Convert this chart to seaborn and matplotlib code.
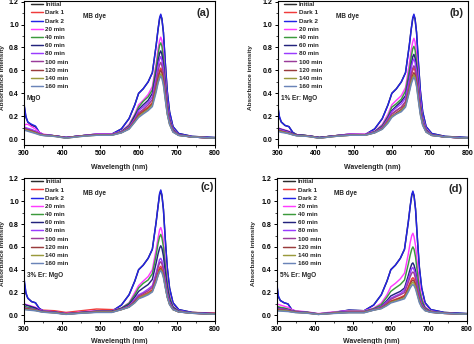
import matplotlib
matplotlib.use('Agg')
import matplotlib.pyplot as plt
import seaborn as sns
import pandas as pd
from matplotlib.ticker import MultipleLocator

# ---------------- data ----------------
wavelength = [300, 305, 310, 320, 330, 340, 350, 380, 410, 450, 490, 530,
              555, 575, 590, 600, 612, 625, 636, 646, 651, 655, 658, 661,
              665, 670, 675, 681, 690, 705, 740, 800]

series = ['Initial', 'Dark 1', 'Dark 2', '20 min', '40 min', '60 min',
          '80 min', '100 min', '120 min', '140 min', '160 min']

colors = ['#2b2b2b', '#f03c3c', '#2323e6', '#ff3cff', '#3c9a3c', '#23237d',
          '#9a3cff', '#9a3c9a', '#9a3c3c', '#9a9a3c', '#6a84b8']

panel_tags = ['(a)', '(b)', '(c)', '(d)']
sample_labels = ['MgO', '1% Er: MgO', '3% Er: MgO', '5% Er: MgO']
dye_label = 'MB dye'

# UV / baseline part (300-530 nm) for each series
uv_a = [
    [0.30, 0.19, 0.15, 0.12, 0.11, 0.06, 0.04, 0.03, 0.015, 0.03, 0.045, 0.045],
    [0.09, 0.085, 0.08, 0.07, 0.06, 0.045, 0.035, 0.03, 0.012, 0.03, 0.04, 0.04],
    [0.31, 0.20, 0.15, 0.13, 0.115, 0.06, 0.04, 0.03, 0.015, 0.03, 0.045, 0.045],
    [0.12, 0.13, 0.13, 0.11, 0.09, 0.06, 0.045, 0.03, 0.015, 0.03, 0.045, 0.045],
    [0.10, 0.095, 0.09, 0.08, 0.07, 0.05, 0.04, 0.03, 0.015, 0.03, 0.04, 0.04],
    [0.10, 0.09, 0.085, 0.075, 0.065, 0.05, 0.04, 0.03, 0.015, 0.03, 0.04, 0.04],
    [0.11, 0.10, 0.095, 0.085, 0.07, 0.05, 0.04, 0.03, 0.015, 0.03, 0.04, 0.04],
    [0.10, 0.09, 0.085, 0.075, 0.06, 0.045, 0.035, 0.028, 0.012, 0.028, 0.038, 0.038],
    [0.09, 0.085, 0.08, 0.07, 0.06, 0.045, 0.035, 0.028, 0.012, 0.028, 0.038, 0.038],
    [0.085, 0.08, 0.075, 0.065, 0.055, 0.04, 0.035, 0.025, 0.01, 0.025, 0.035, 0.035],
    [0.08, 0.075, 0.07, 0.06, 0.05, 0.04, 0.032, 0.025, 0.01, 0.025, 0.035, 0.035],
]
vis_a = [
    [0.09, 0.18, 0.30, 0.40, 0.44, 0.50, 0.58, 0.82, 0.96, 1.05, 1.08, 1.05, 0.93, 0.66, 0.42, 0.24, 0.11, 0.05, 0.025, 0.015],
    [0.059, 0.096, 0.16, 0.22, 0.25, 0.28, 0.32, 0.46, 0.55, 0.60, 0.62, 0.60, 0.52, 0.38, 0.24, 0.14, 0.068, 0.035, 0.02, 0.01],
    [0.09, 0.18, 0.30, 0.40, 0.44, 0.50, 0.58, 0.82, 0.96, 1.06, 1.09, 1.05, 0.93, 0.66, 0.42, 0.24, 0.11, 0.05, 0.025, 0.015],
    [0.07, 0.13, 0.22, 0.30, 0.34, 0.39, 0.46, 0.66, 0.79, 0.86, 0.89, 0.86, 0.75, 0.54, 0.34, 0.19, 0.09, 0.04, 0.022, 0.01],
    [0.068, 0.12, 0.21, 0.28, 0.33, 0.37, 0.43, 0.63, 0.74, 0.82, 0.84, 0.81, 0.71, 0.51, 0.32, 0.18, 0.086, 0.04, 0.02, 0.01],
    [0.065, 0.11, 0.20, 0.26, 0.30, 0.34, 0.40, 0.58, 0.68, 0.75, 0.77, 0.74, 0.65, 0.47, 0.30, 0.17, 0.08, 0.04, 0.02, 0.01],
    [0.063, 0.107, 0.18, 0.25, 0.28, 0.32, 0.37, 0.54, 0.64, 0.70, 0.72, 0.69, 0.61, 0.44, 0.28, 0.16, 0.076, 0.038, 0.02, 0.01],
    [0.061, 0.10, 0.17, 0.23, 0.26, 0.30, 0.345, 0.50, 0.59, 0.65, 0.67, 0.64, 0.57, 0.41, 0.26, 0.15, 0.072, 0.036, 0.02, 0.01],
    [0.058, 0.094, 0.16, 0.21, 0.24, 0.27, 0.31, 0.45, 0.53, 0.58, 0.60, 0.58, 0.51, 0.37, 0.23, 0.14, 0.066, 0.035, 0.02, 0.01],
    [0.057, 0.09, 0.15, 0.20, 0.23, 0.26, 0.30, 0.43, 0.50, 0.55, 0.57, 0.55, 0.48, 0.35, 0.22, 0.13, 0.064, 0.034, 0.02, 0.01],
    [0.056, 0.088, 0.15, 0.19, 0.22, 0.25, 0.285, 0.41, 0.49, 0.53, 0.55, 0.53, 0.47, 0.34, 0.22, 0.13, 0.062, 0.033, 0.02, 0.01],
]

uv_b = [
    [0.30, 0.19, 0.15, 0.12, 0.11, 0.06, 0.04, 0.03, 0.015, 0.03, 0.045, 0.04],
    [0.09, 0.085, 0.08, 0.07, 0.06, 0.045, 0.035, 0.03, 0.012, 0.03, 0.04, 0.04],
    [0.31, 0.20, 0.15, 0.12, 0.11, 0.06, 0.04, 0.03, 0.015, 0.03, 0.045, 0.04],
    [0.10, 0.095, 0.09, 0.08, 0.07, 0.05, 0.04, 0.03, 0.015, 0.03, 0.045, 0.045],
    [0.10, 0.09, 0.085, 0.075, 0.065, 0.05, 0.04, 0.03, 0.015, 0.03, 0.04, 0.04],
    [0.10, 0.09, 0.085, 0.075, 0.065, 0.05, 0.04, 0.03, 0.015, 0.03, 0.04, 0.04],
    [0.09, 0.085, 0.08, 0.07, 0.06, 0.045, 0.035, 0.028, 0.012, 0.028, 0.04, 0.04],
    [0.08, 0.075, 0.07, 0.065, 0.055, 0.042, 0.035, 0.028, 0.012, 0.028, 0.038, 0.038],
    [0.08, 0.075, 0.07, 0.06, 0.05, 0.04, 0.032, 0.025, 0.01, 0.025, 0.035, 0.035],
    [0.075, 0.07, 0.065, 0.058, 0.05, 0.04, 0.032, 0.025, 0.01, 0.025, 0.035, 0.035],
    [0.07, 0.065, 0.06, 0.055, 0.048, 0.038, 0.03, 0.025, 0.01, 0.025, 0.035, 0.035],
]
vis_b = [
    [0.09, 0.18, 0.30, 0.40, 0.44, 0.50, 0.58, 0.82, 0.96, 1.05, 1.08, 1.05, 0.93, 0.66, 0.42, 0.24, 0.11, 0.05, 0.025, 0.015],
    [0.059, 0.096, 0.16, 0.22, 0.25, 0.28, 0.32, 0.46, 0.55, 0.60, 0.62, 0.60, 0.52, 0.38, 0.24, 0.14, 0.068, 0.035, 0.02, 0.01],
    [0.09, 0.18, 0.30, 0.40, 0.44, 0.50, 0.58, 0.82, 0.96, 1.06, 1.09, 1.05, 0.93, 0.66, 0.42, 0.24, 0.11, 0.05, 0.025, 0.015],
    [0.07, 0.13, 0.22, 0.30, 0.34, 0.38, 0.45, 0.66, 0.78, 0.85, 0.88, 0.85, 0.74, 0.54, 0.34, 0.19, 0.09, 0.04, 0.02, 0.01],
    [0.067, 0.12, 0.20, 0.28, 0.31, 0.35, 0.42, 0.60, 0.72, 0.79, 0.81, 0.78, 0.68, 0.49, 0.31, 0.18, 0.083, 0.04, 0.02, 0.01],
    [0.064, 0.11, 0.19, 0.25, 0.29, 0.33, 0.38, 0.55, 0.65, 0.72, 0.74, 0.71, 0.63, 0.45, 0.29, 0.16, 0.078, 0.038, 0.02, 0.01],
    [0.062, 0.105, 0.18, 0.24, 0.275, 0.31, 0.36, 0.52, 0.62, 0.68, 0.70, 0.67, 0.59, 0.43, 0.27, 0.16, 0.074, 0.037, 0.02, 0.01],
    [0.06, 0.098, 0.17, 0.22, 0.25, 0.28, 0.33, 0.48, 0.57, 0.62, 0.64, 0.62, 0.54, 0.39, 0.25, 0.14, 0.07, 0.036, 0.02, 0.01],
    [0.057, 0.092, 0.15, 0.20, 0.23, 0.26, 0.30, 0.43, 0.51, 0.56, 0.58, 0.56, 0.49, 0.36, 0.23, 0.13, 0.065, 0.034, 0.02, 0.01],
    [0.057, 0.089, 0.15, 0.20, 0.22, 0.25, 0.29, 0.42, 0.50, 0.54, 0.56, 0.54, 0.47, 0.34, 0.22, 0.13, 0.063, 0.033, 0.02, 0.01],
    [0.056, 0.087, 0.14, 0.19, 0.22, 0.24, 0.28, 0.41, 0.48, 0.52, 0.54, 0.52, 0.46, 0.33, 0.21, 0.12, 0.062, 0.033, 0.02, 0.01],
]

uv_c = [
    [0.31, 0.19, 0.15, 0.12, 0.11, 0.06, 0.04, 0.03, 0.015, 0.025, 0.035, 0.035],
    [0.07, 0.065, 0.06, 0.055, 0.05, 0.045, 0.045, 0.04, 0.025, 0.04, 0.055, 0.05],
    [0.33, 0.20, 0.15, 0.12, 0.11, 0.06, 0.04, 0.03, 0.015, 0.025, 0.035, 0.035],
    [0.10, 0.095, 0.09, 0.08, 0.07, 0.05, 0.04, 0.03, 0.015, 0.03, 0.04, 0.04],
    [0.08, 0.075, 0.07, 0.065, 0.055, 0.04, 0.035, 0.028, 0.012, 0.025, 0.035, 0.035],
    [0.10, 0.09, 0.085, 0.075, 0.065, 0.045, 0.035, 0.028, 0.012, 0.025, 0.035, 0.035],
    [0.07, 0.065, 0.06, 0.055, 0.05, 0.04, 0.032, 0.025, 0.01, 0.022, 0.03, 0.03],
    [0.065, 0.06, 0.058, 0.052, 0.047, 0.038, 0.03, 0.025, 0.01, 0.022, 0.03, 0.03],
    [0.06, 0.057, 0.055, 0.05, 0.045, 0.036, 0.03, 0.022, 0.01, 0.02, 0.028, 0.028],
    [0.055, 0.052, 0.05, 0.046, 0.042, 0.035, 0.028, 0.022, 0.01, 0.02, 0.028, 0.028],
    [0.05, 0.048, 0.046, 0.043, 0.04, 0.033, 0.027, 0.02, 0.008, 0.018, 0.025, 0.025],
]
vis_c = [
    [0.09, 0.18, 0.30, 0.40, 0.44, 0.50, 0.58, 0.82, 0.96, 1.06, 1.09, 1.05, 0.93, 0.66, 0.42, 0.24, 0.11, 0.05, 0.025, 0.015],
    [0.051, 0.075, 0.12, 0.16, 0.18, 0.20, 0.225, 0.32, 0.38, 0.42, 0.43, 0.41, 0.36, 0.27, 0.17, 0.10, 0.053, 0.03, 0.025, 0.02],
    [0.09, 0.18, 0.30, 0.40, 0.44, 0.50, 0.58, 0.82, 0.96, 1.07, 1.10, 1.06, 0.93, 0.66, 0.42, 0.24, 0.11, 0.05, 0.025, 0.015],
    [0.065, 0.11, 0.20, 0.26, 0.30, 0.34, 0.40, 0.58, 0.68, 0.75, 0.77, 0.74, 0.65, 0.47, 0.30, 0.17, 0.08, 0.04, 0.02, 0.01],
    [0.063, 0.106, 0.18, 0.24, 0.28, 0.31, 0.365, 0.53, 0.63, 0.69, 0.71, 0.68, 0.60, 0.43, 0.28, 0.16, 0.075, 0.037, 0.02, 0.01],
    [0.059, 0.095, 0.16, 0.21, 0.24, 0.27, 0.315, 0.46, 0.54, 0.59, 0.61, 0.59, 0.52, 0.37, 0.24, 0.14, 0.067, 0.035, 0.02, 0.01],
    [0.054, 0.083, 0.14, 0.18, 0.20, 0.23, 0.26, 0.375, 0.44, 0.49, 0.50, 0.48, 0.42, 0.31, 0.20, 0.12, 0.058, 0.032, 0.019, 0.01],
    [0.053, 0.08, 0.13, 0.17, 0.19, 0.215, 0.245, 0.35, 0.42, 0.46, 0.47, 0.45, 0.40, 0.29, 0.19, 0.11, 0.056, 0.031, 0.019, 0.01],
    [0.051, 0.073, 0.12, 0.15, 0.17, 0.19, 0.215, 0.31, 0.36, 0.40, 0.41, 0.39, 0.35, 0.25, 0.16, 0.10, 0.051, 0.03, 0.018, 0.01],
    [0.05, 0.072, 0.11, 0.15, 0.17, 0.19, 0.21, 0.30, 0.35, 0.39, 0.40, 0.385, 0.34, 0.25, 0.16, 0.096, 0.05, 0.03, 0.018, 0.01],
    [0.05, 0.071, 0.11, 0.145, 0.16, 0.18, 0.205, 0.29, 0.35, 0.38, 0.39, 0.375, 0.33, 0.24, 0.16, 0.094, 0.05, 0.03, 0.018, 0.01],
]

uv_d = [
    [0.29, 0.16, 0.13, 0.11, 0.10, 0.05, 0.035, 0.025, 0.012, 0.025, 0.045, 0.04],
    [0.05, 0.048, 0.046, 0.043, 0.04, 0.033, 0.028, 0.022, 0.01, 0.02, 0.03, 0.03],
    [0.30, 0.17, 0.13, 0.11, 0.10, 0.05, 0.035, 0.025, 0.012, 0.025, 0.045, 0.04],
    [0.10, 0.095, 0.09, 0.08, 0.07, 0.05, 0.04, 0.03, 0.015, 0.03, 0.04, 0.04],
    [0.08, 0.075, 0.07, 0.065, 0.055, 0.042, 0.035, 0.028, 0.012, 0.025, 0.035, 0.035],
    [0.07, 0.065, 0.06, 0.055, 0.05, 0.04, 0.032, 0.025, 0.01, 0.022, 0.03, 0.03],
    [0.065, 0.06, 0.058, 0.052, 0.047, 0.038, 0.03, 0.025, 0.01, 0.022, 0.03, 0.03],
    [0.06, 0.057, 0.055, 0.05, 0.045, 0.036, 0.03, 0.022, 0.01, 0.02, 0.028, 0.028],
    [0.05, 0.048, 0.046, 0.043, 0.04, 0.033, 0.027, 0.02, 0.008, 0.018, 0.025, 0.025],
    [0.045, 0.043, 0.042, 0.04, 0.037, 0.03, 0.025, 0.02, 0.008, 0.018, 0.025, 0.025],
    [0.04, 0.038, 0.037, 0.035, 0.033, 0.028, 0.024, 0.018, 0.008, 0.016, 0.022, 0.022],
]
vis_d = [
    [0.09, 0.18, 0.30, 0.40, 0.44, 0.50, 0.58, 0.82, 0.96, 1.05, 1.08, 1.05, 0.93, 0.66, 0.42, 0.24, 0.11, 0.05, 0.025, 0.015],
    [0.047, 0.064, 0.10, 0.126, 0.14, 0.157, 0.175, 0.25, 0.29, 0.32, 0.33, 0.32, 0.28, 0.21, 0.135, 0.082, 0.045, 0.028, 0.017, 0.01],
    [0.09, 0.18, 0.30, 0.40, 0.44, 0.50, 0.58, 0.82, 0.96, 1.06, 1.09, 1.05, 0.93, 0.66, 0.42, 0.24, 0.11, 0.05, 0.025, 0.015],
    [0.063, 0.107, 0.18, 0.25, 0.28, 0.32, 0.37, 0.54, 0.64, 0.70, 0.72, 0.69, 0.61, 0.44, 0.28, 0.16, 0.076, 0.038, 0.02, 0.01],
    [0.058, 0.094, 0.16, 0.21, 0.24, 0.27, 0.31, 0.45, 0.53, 0.58, 0.60, 0.58, 0.51, 0.37, 0.23, 0.14, 0.066, 0.035, 0.02, 0.01],
    [0.053, 0.078, 0.13, 0.17, 0.19, 0.21, 0.24, 0.35, 0.41, 0.45, 0.46, 0.44, 0.39, 0.28, 0.18, 0.11, 0.055, 0.031, 0.019, 0.01],
    [0.051, 0.074, 0.12, 0.15, 0.17, 0.19, 0.22, 0.32, 0.37, 0.41, 0.42, 0.40, 0.36, 0.26, 0.17, 0.10, 0.052, 0.03, 0.018, 0.01],
    [0.049, 0.07, 0.11, 0.14, 0.16, 0.18, 0.20, 0.29, 0.34, 0.37, 0.38, 0.37, 0.32, 0.24, 0.15, 0.09, 0.049, 0.029, 0.018, 0.01],
    [0.047, 0.062, 0.094, 0.12, 0.134, 0.15, 0.165, 0.235, 0.275, 0.30, 0.31, 0.30, 0.26, 0.19, 0.127, 0.078, 0.043, 0.027, 0.017, 0.01],
    [0.046, 0.06, 0.089, 0.114, 0.127, 0.14, 0.155, 0.22, 0.26, 0.28, 0.29, 0.28, 0.25, 0.18, 0.12, 0.074, 0.042, 0.027, 0.017, 0.01],
    [0.045, 0.058, 0.085, 0.108, 0.12, 0.133, 0.145, 0.205, 0.24, 0.26, 0.27, 0.26, 0.23, 0.17, 0.11, 0.07, 0.04, 0.026, 0.017, 0.01],
]

# ---------------- style ----------------
sns.set_theme(style='ticks')
plt.rcParams['font.family'] = ['Liberation Sans', 'DejaVu Sans']
plt.rcParams['font.weight'] = 'bold'
plt.rcParams['axes.labelweight'] = 'bold'

W, H = 474, 344
fig = plt.figure(figsize=(W / 100, H / 100), dpi=100)

# pixel boxes: left, top, right, bottom
boxes = [(24, 1, 215, 145), (277.5, 1, 468, 145),
         (24, 178, 215, 321), (276.5, 178, 467, 321)]
ylabel_x = [-0.098, -0.13, -0.098, -0.108]
xlabel_y = [-0.135, -0.135, -0.122, -0.122]
tag_pos = [(0.94, 0.92), (0.94, 0.92), (0.958, 0.937), (0.94, 0.925)]
mb_pos = [(0.309, 0.889), (0.307, 0.889), (0.309, 0.895), (0.30, 0.895)]
sample_pos = [(0.016, 0.32), (0.018, 0.32), (0.016, 0.32), (0.017, 0.32)]

uvs = [uv_a, uv_b, uv_c, uv_d]
viss = [vis_a, vis_b, vis_c, vis_d]

for k in range(4):
    l, t, r, b = boxes[k]
    ax = fig.add_axes([l / W, 1 - b / H, (r - l) / W, (b - t) / H])
    rows = []
    for name, u, v in zip(series, uvs[k], viss[k]):
        for x, y in zip(wavelength, u + v):
            rows.append({'Wavelength': x, 'Abs': y, 'Series': name})
    df = pd.DataFrame(rows)
    sns.lineplot(data=df, x='Wavelength', y='Abs', hue='Series',
                 hue_order=series, palette=colors, estimator=None,
                 sort=False, linewidth=1.05, ax=ax)
    ax.set_xlim(300, 800)
    ax.set_ylim(-0.05, 1.205)
    ax.xaxis.set_major_locator(MultipleLocator(100))
    ax.xaxis.set_minor_locator(MultipleLocator(50))
    ax.yaxis.set_major_locator(MultipleLocator(0.2))
    ax.yaxis.set_minor_locator(MultipleLocator(0.1))
    ax.yaxis.set_major_formatter(plt.FuncFormatter(lambda v, p: f'{v:.1f}'))
    ax.tick_params(axis='both', which='major', direction='out', length=2.2,
                   width=0.7, pad=1.5, labelsize=5, colors='black')
    ax.tick_params(axis='both', which='minor', direction='out', length=1.3,
                   width=0.6)
    for sp in ax.spines.values():
        sp.set_visible(True)
        sp.set_color('black')
        sp.set_linewidth(0.8)
    ax.set_xlabel('Wavelength (nm)', fontsize=5, fontweight='bold')
    ax.set_ylabel('Absorbance intensity', fontsize=4.6, fontweight='bold')
    ax.xaxis.set_label_coords(0.5, xlabel_y[k])
    ax.yaxis.set_label_coords(ylabel_x[k], 0.47)
    ax.legend(frameon=False, loc='upper left',
              bbox_to_anchor=(0.03, 1.0), borderaxespad=0.15, borderpad=0,
              handlelength=1.9, handletextpad=0.45, labelspacing=0.45,
              prop={'weight': 'bold', 'size': 4.5})
    ax.text(*mb_pos[k], dye_label, transform=ax.transAxes, fontsize=4.7,
            fontweight='bold', ha='left', va='center')
    ax.text(*sample_pos[k], sample_labels[k], transform=ax.transAxes,
            fontsize=4.7, fontweight='bold', ha='left', va='center')
    ax.text(*tag_pos[k], panel_tags[k], transform=ax.transAxes, fontsize=8,
            fontweight='bold', ha='center', va='center')

fig.savefig('out.png', dpi=100)
